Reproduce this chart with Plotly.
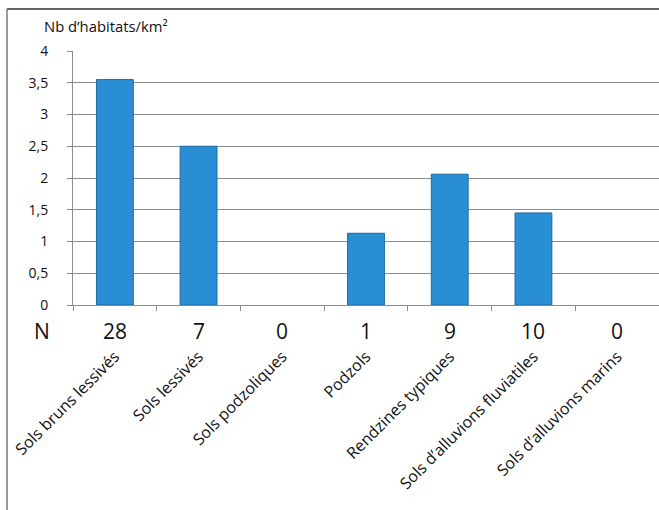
import plotly.graph_objects as go

categories = ["Sols bruns lessivés", "Sols lessivés", "Sols podzoliques", "Podzols",
              "Rendzines typiques", "Sols d’alluvions fluviatiles", "Sols d’alluvions marins"]
density = [3.55, 2.5, 0, 1.13, 2.06, 1.45, 0]
n_values = [28, 7, 0, 1, 9, 10, 0]
y_tickvals = [0, 0.5, 1, 1.5, 2, 2.5, 3, 3.5, 4]
y_ticktext = ["0", "0,5", "1", "1,5", "2", "2,5", "3", "3,5", "4"]

FONT = "Open Sans"
xpos = list(range(len(categories)))

fig = go.Figure()
fig.add_trace(go.Bar(
    x=xpos, y=density, width=0.44,
    marker=dict(color="#2A8ED4",
                line=dict(color="#1C6AA3", width=[1 if v > 0 else 0 for v in density])),
    showlegend=False,
))

fig.update_layout(
    width=659, height=510,
    margin=dict(l=73, r=0, t=51, b=205),
    plot_bgcolor="white", paper_bgcolor="white",
    font=dict(family=FONT, color="#111", size=14),
)
fig.update_xaxes(
    range=[-0.5, 6.5], tickmode="array", tickvals=xpos, ticktext=categories,
    tickangle=-45, ticks="", ticklabelstandoff=35, showgrid=False,
    showline=True, linecolor="#8c8c8c", linewidth=1,
    tickfont=dict(size=16, family=FONT),
    minor=dict(tickmode="linear", tick0=-0.5, dtick=1, ticks="outside",
               ticklen=5, tickcolor="#8c8c8c", showgrid=False),
    automargin=False, fixedrange=True,
)
fig.update_yaxes(
    range=[0, 4], tickmode="array", tickvals=y_tickvals, ticktext=y_ticktext,
    ticks="outside", ticklen=5, tickcolor="#8c8c8c", ticklabelstandoff=16,
    showgrid=True, gridcolor="#8c8c8c", gridwidth=1,
    showline=True, linecolor="#8c8c8c", linewidth=1, zeroline=False,
    tickfont=dict(size=14, family=FONT), automargin=False, fixedrange=True,
)

# N row
fig.add_annotation(x=-0.053, y=-0.102, xref="paper", yref="paper", text="N",
                   showarrow=False, font=dict(size=21, family=FONT), xanchor="center", yanchor="middle")
for i, n in enumerate(n_values):
    fig.add_annotation(x=i, y=-0.102, xref="x", yref="paper", text=str(n),
                       showarrow=False, font=dict(size=21, family=FONT), xanchor="center", yanchor="middle")

# y title
fig.add_annotation(x=0.056, y=1.1, xref="paper", yref="paper", text="Nb d’habitats/km²",
                   showarrow=False, font=dict(size=14.8, family=FONT), xanchor="center", yanchor="middle")

# outer frame
fig.add_shape(type="line", xref="paper", yref="paper", x0=-0.1126, x1=1.02, y0=1.165, y1=1.165,
              line=dict(color="#333", width=1.5))
fig.add_shape(type="line", xref="paper", yref="paper", x0=-0.1126, x1=-0.1126, y0=1.165, y1=-0.85,
              line=dict(color="#777", width=1.5))

fig.write_html("out.html", config={"displayModeBar": False},
               post_script="document.body.style.margin='0';document.body.style.overflow='hidden';")
